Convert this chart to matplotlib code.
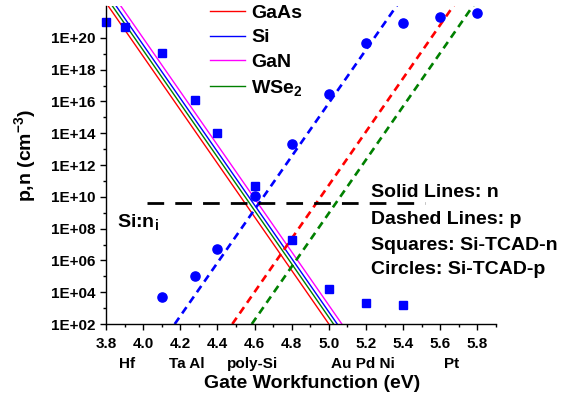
import numpy as np
import matplotlib
matplotlib.use("Agg")
import matplotlib.pyplot as plt
from matplotlib.ticker import FixedLocator, FuncFormatter, NullFormatter
import matplotlib.transforms as mtransforms

# ============================================================
# DATA
# ============================================================

materials = ["GaAs", "Si", "GaN", "WSe$_2$"]
colors = ["#FF0000", "#0000FF", "#FF00FF", "#008000"]

# solid lines (n): two end points each
n_line_w = [[3.80, 5.000], [3.80, 5.045], [3.80, 5.070], [3.80, 5.025]]
n_line_val = [[1.6e22, 1e2], [8.3e22, 1e2], [2.2e23, 1e2], [3.8e22, 1e2]]

# dashed lines (p): GaAs, Si, WSe2
p_names = ["GaAs", "Si", "WSe$_2$"]
p_colors = ["#FF0000", "#0000FF", "#008000"]
p_line_w = [[4.48, 5.70], [4.17, 5.40], [4.585, 5.78]]
p_line_val = [[1e2, 3.2e22], [1e2, 4.0e22], [1e2, 1.2e22]]

# Si TCAD points
tcad_w_n = [3.8, 3.9, 4.1, 4.28, 4.4, 4.6, 4.8, 5.0, 5.2, 5.4]
tcad_n = [1e21, 4.8e20, 1.1e19, 1.2e16, 1e14, 4.8e10, 1.9e7, 1.6e4, 2.1e3, 1.6e3]

tcad_w_p = [4.1, 4.28, 4.4, 4.6, 4.8, 5.0, 5.2, 5.4, 5.6, 5.8]
tcad_p = [5e3, 1e5, 5e6, 1.1e10, 2e13, 3e16, 5e19, 8e20, 2e21, 3.6e21]

# Si intrinsic level
ni_w = [4.02, 5.52]
ni_val = [4e9, 4e9]

# metal workfunction labels under the axis
metal_labels = ["Hf", "Ta Al", "poly-Si", "Au Pd Ni", "Pt"]
metal_pos = [3.913, 4.237, 4.587, 5.185, 5.66]

notes = ["Solid Lines: n", "Dashed Lines: p", "Squares: Si-TCAD-n", "Circles: Si-TCAD-p"]

# ============================================================
# STYLE
# ============================================================

plt.rcParams["font.family"] = ["Liberation Sans", "DejaVu Sans"]
plt.rcParams["font.weight"] = "bold"
plt.rcParams["mathtext.fontset"] = "custom"
plt.rcParams["mathtext.rm"] = "Liberation Sans:bold"
plt.rcParams["mathtext.it"] = "Liberation Sans:bold"
plt.rcParams["mathtext.bf"] = "Liberation Sans:bold"
plt.rcParams["lines.scale_dashes"] = False

fig = plt.figure(figsize=(5.87, 4.03), dpi=100)
ax = fig.add_axes([0.1806, 0.196, 0.6644, 0.789])

# ============================================================
# PLOT
# ============================================================

for i in range(len(materials)):
    ax.plot(n_line_w[i], n_line_val[i], color=colors[i], lw=1.0,
            label=materials[i])

for i in range(len(p_names)):
    ax.plot(p_line_w[i], p_line_val[i], color=p_colors[i], lw=1.9,
            dashes=(5.5, 3.8))

ax.plot(ni_w, ni_val, color="black", lw=2.0, dashes=(12.0, 8.0))

ax.plot(tcad_w_n, tcad_n, ls="none", marker="s", ms=6.0,
        color="#0000FF", clip_on=False)
ax.plot(tcad_w_p, tcad_p, ls="none", marker="o", ms=6.6,
        color="#0000FF", clip_on=False)

ax.set_yscale("log")
ax.set_xlim(3.8, 5.9)
ax.set_ylim(1e2, 1e22)

ax.xaxis.set_major_locator(FixedLocator(np.arange(3.8, 5.81, 0.2)))
ax.xaxis.set_minor_locator(FixedLocator(np.arange(3.9, 5.91, 0.2)))
ax.xaxis.set_major_formatter(FuncFormatter(lambda v, p: f"{v:.1f}"))

ax.yaxis.set_major_locator(FixedLocator([10.0 ** k for k in range(2, 21, 2)]))
ax.yaxis.set_minor_locator(FixedLocator([10.0 ** k for k in range(3, 22, 2)]))
ax.yaxis.set_major_formatter(
    FuncFormatter(lambda v, p: f"1E+{int(round(np.log10(v))):02d}"))
ax.yaxis.set_minor_formatter(NullFormatter())

ax.tick_params(axis="both", which="major", direction="out", length=4.5,
               width=1.0, labelsize=11, pad=3)
ax.tick_params(axis="both", which="minor", direction="out", length=2.5,
               width=1.0)
ax.tick_params(axis="x", which="major", pad=5)

for s in ["top", "right"]:
    ax.spines[s].set_visible(False)
for s in ["left", "bottom"]:
    ax.spines[s].set_linewidth(1.0)

ax.set_xlabel("Gate Workfunction (eV)", fontsize=14, fontweight="bold")
ax.xaxis.set_label_coords(0.528, -0.16)
ax.set_ylabel("p,n (cm$^{-3}$)", fontsize=14, fontweight="bold")
ax.yaxis.set_label_coords(-0.174, 0.53)

trans = mtransforms.blended_transform_factory(ax.transData, ax.transAxes)
for name, pos in zip(metal_labels, metal_pos):
    ax.text(pos, -0.125, name, transform=trans, ha="center", va="center",
            fontsize=11, fontweight="bold")

ax.text(0.028, 0.32, "Si:n$_\\mathrm{i}$", transform=ax.transAxes,
        ha="left", va="center", fontsize=14, fontweight="bold")

note_y = [0.415, 0.33, 0.248, 0.17]
for txt, yy in zip(notes, note_y):
    ax.text(0.679, yy, txt, transform=ax.transAxes, ha="left",
            va="center", fontsize=14, fontweight="bold")

leg = ax.legend(loc="upper left", bbox_to_anchor=(0.267, 1.006),
                frameon=False, fontsize=14, handlelength=1.8,
                handletextpad=0.3, labelspacing=0.36, borderpad=0,
                borderaxespad=0)

fig.savefig("out.png", dpi=100)
